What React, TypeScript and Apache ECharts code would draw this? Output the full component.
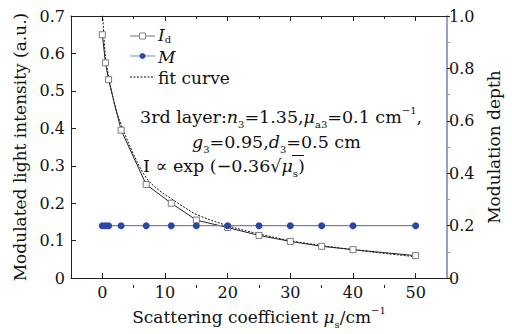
import React, { useEffect, useRef } from 'react';
import * as echarts from 'echarts';

const xValues = [0, 0.5, 1, 3, 7, 11, 15, 20, 25, 30, 35, 40, 50];
const idValues = [0.65, 0.575, 0.53, 0.395, 0.25, 0.2, 0.155, 0.135, 0.114, 0.098, 0.085, 0.076, 0.06];
const mValues = [0.2, 0.2, 0.2, 0.2, 0.2, 0.2, 0.2, 0.2, 0.2, 0.2, 0.2, 0.2, 0.2];
const fitX = [0, 0.5, 1, 2, 3, 5, 7, 9, 11, 13, 15, 20, 25, 30, 35, 40, 45, 50];
const fitY = [0.72, 0.59, 0.54, 0.46, 0.41, 0.33, 0.268, 0.235, 0.212, 0.19, 0.17, 0.14, 0.118, 0.1, 0.087, 0.076, 0.066, 0.057];
const xMajorTicks = [0, 10, 20, 30, 40, 50];
const xMinorTicks = [5, 15, 25, 35, 45];

const FONT = 'DejaVu Serif';
const BLUE = '#2b47a6';
const BLUE_LINE = '#6f80c6';

const richBase = (size: number) => ({
  i: { fontStyle: 'italic', fontFamily: FONT, fontSize: size, color: '#111', lineHeight: 24 },
  sub: { fontFamily: FONT, fontSize: 10, color: '#111', verticalAlign: 'bottom', lineHeight: 10 },
  sup: { fontFamily: FONT, fontSize: 10, color: '#111', verticalAlign: 'top', lineHeight: 10 },
  n: { fontFamily: FONT, fontSize: size, color: '#111', lineHeight: 24 },
});

const zrRich = (size: number, lh = 24) => ({
  i: { fontStyle: 'italic', fontFamily: FONT, fontSize: size, fill: '#111', lineHeight: lh },
  sub: { fontFamily: FONT, fontSize: 10, fill: '#111', verticalAlign: 'bottom', lineHeight: 10 },
  sup: { fontFamily: FONT, fontSize: 10, fill: '#111', verticalAlign: 'top', lineHeight: 10 },
  n: { fontFamily: FONT, fontSize: size, fill: '#111', lineHeight: lh },
});

export default function App() {
  const ref = useRef<HTMLDivElement>(null);
  useEffect(() => {
    if (!ref.current) return;
    const chart = echarts.init(ref.current, undefined, { renderer: 'svg' });
    const gridPos = { left: 71, right: 65, top: 16, bottom: 46 };
    const legendText = (x: number, y: number, text: string) => ({
      type: 'text', x, y, z: 10,
      style: { text, rich: zrRich(17, 19), font: `17px ${FONT}`, fill: '#111', verticalAlign: 'middle', align: 'left' },
    });
    const option: any = {
      animation: false,
      backgroundColor: '#fff',
      grid: [
        { ...gridPos, containLabel: false },
        { ...gridPos, containLabel: false },
      ],
      xAxis: [
        {
          gridIndex: 0, type: 'value', position: 'bottom', min: -5, max: 55, interval: 5,
          axisLine: { show: true, onZero: false, lineStyle: { color: '#222', width: 1 } },
          axisTick: { show: true, inside: true, length: 5, customValues: xMajorTicks, lineStyle: { color: '#222' } },
          axisLabel: { show: true, customValues: xMajorTicks, margin: 6, fontFamily: FONT, fontSize: 16, color: '#111' },
          splitLine: { show: false },
          name: '{n|Scattering coefficient }{i|μ}{sub|s}{n|/cm}{sup|−1}',
          nameLocation: 'middle',
          nameGap: 26,
          nameTextStyle: { fontFamily: FONT, fontSize: 17, color: '#111', rich: richBase(17) },
        },
        {
          gridIndex: 0, type: 'value', position: 'top', min: -5, max: 55, interval: 5,
          axisLine: { show: true, onZero: false, lineStyle: { color: '#222', width: 1 } },
          axisTick: { show: true, inside: true, length: 5, customValues: xMajorTicks, lineStyle: { color: '#222' } },
          axisLabel: { show: false },
          splitLine: { show: false },
        },
        {
          gridIndex: 1, type: 'value', position: 'bottom', min: -5, max: 55, interval: 5,
          axisLine: { show: false },
          axisTick: { show: true, inside: true, length: 3, customValues: xMinorTicks, lineStyle: { color: '#222' } },
          axisLabel: { show: false },
          splitLine: { show: false },
        },
        {
          gridIndex: 1, type: 'value', position: 'top', min: -5, max: 55, interval: 5,
          axisLine: { show: false },
          axisTick: { show: true, inside: true, length: 3, customValues: xMinorTicks, lineStyle: { color: '#222' } },
          axisLabel: { show: false },
          splitLine: { show: false },
        },
      ],
      yAxis: [
        {
          gridIndex: 0, type: 'value', position: 'left', min: 0, max: 0.7, interval: 0.1,
          axisLine: { show: true, onZero: false, lineStyle: { color: '#222', width: 1 } },
          axisTick: { show: true, inside: true, length: 5, lineStyle: { color: '#222' } },
          axisLabel: {
            margin: 6, fontFamily: FONT, fontSize: 16, color: '#111',
            formatter: (v: number) => (v === 0 ? '0' : v.toFixed(1)),
          },
          splitLine: { show: false },
          name: 'Modulated light intensity (a.u.)',
          nameLocation: 'middle',
          nameGap: 33,
          nameTextStyle: { fontFamily: FONT, fontSize: 17, color: '#111' },
        },
        {
          gridIndex: 0, type: 'value', position: 'right', min: 0, max: 1, interval: 0.2,
          axisLine: { show: true, onZero: false, lineStyle: { color: BLUE_LINE, width: 1.5 } },
          axisTick: { show: true, inside: false, length: 3, lineStyle: { color: '#222' } },
          minorTick: { show: true, splitNumber: 2, length: 3, lineStyle: { color: '#999' } },
          axisLabel: {
            margin: 2, fontFamily: FONT, fontSize: 16, color: '#111',
            formatter: (v: number) => (v === 0 ? '0' : v.toFixed(1)),
          },
          splitLine: { show: false },
          name: 'Modulation depth',
          nameLocation: 'middle',
          nameGap: 32,
          nameTextStyle: { fontFamily: FONT, fontSize: 17, color: '#111' },
        },
        {
          gridIndex: 1, type: 'value', min: 0, max: 0.7, show: false,
        },
      ],
      series: [
        {
          name: 'fit', type: 'line', xAxisIndex: 0, yAxisIndex: 0,
          data: fitX.map((x, i) => [x, fitY[i]]),
          showSymbol: false, symbol: 'none', smooth: 0.35, clip: true,
          lineStyle: { color: '#111', width: 1, type: [2, 1.5] },
          itemStyle: { color: '#111' },
          z: 2,
        },
        {
          name: 'Id', type: 'line', xAxisIndex: 0, yAxisIndex: 0,
          data: xValues.map((x, i) => [x, idValues[i]]),
          symbol: 'rect', symbolSize: 6,
          lineStyle: { color: '#222', width: 1 },
          itemStyle: { color: '#fff', borderColor: '#7a7a7a', borderWidth: 1 },
          z: 3,
        },
        {
          name: 'M', type: 'line', xAxisIndex: 0, yAxisIndex: 1,
          data: xValues.map((x, i) => [x, mValues[i]]),
          symbol: 'circle', symbolSize: 7,
          lineStyle: { color: BLUE_LINE, width: 1.2 },
          itemStyle: { color: BLUE },
          z: 4,
        },
      ],
      graphic: [
        // legend
        { type: 'line', z: 10, shape: { x1: 130, y1: 36, x2: 155, y2: 36 }, style: { stroke: '#888', lineWidth: 1.2 } },
        { type: 'rect', z: 11, shape: { x: 139.5, y: 33, width: 6, height: 6 }, style: { fill: '#fff', stroke: '#888', lineWidth: 1 } },
        legendText(158, 35, '{i|I}{sub|d}'),
        { type: 'line', z: 10, shape: { x1: 130, y1: 56, x2: 155, y2: 56 }, style: { stroke: '#8d9ad4', lineWidth: 1.2 } },
        { type: 'circle', z: 11, shape: { cx: 142.5, cy: 56, r: 3 }, style: { fill: BLUE } },
        legendText(158, 57, '{i|M}'),
        { type: 'line', z: 10, shape: { x1: 130, y1: 77, x2: 155, y2: 77 }, style: { stroke: '#111', lineWidth: 1, lineDash: [2, 1.5] } },
        legendText(158, 78, '{n|fit curve}'),
        // annotation
        {
          type: 'text', x: 140, y: 117, z: 10,
          style: {
            text: '{n|3rd layer:}{i|n}{sub|3}{n|=1.35,}{i|μ}{sub|a3}{n|=0.1 cm}{sup|−1}{n|,}',
            rich: zrRich(17.5), font: `17.5px ${FONT}`, fill: '#111', verticalAlign: 'middle',
          },
        },
        {
          type: 'text', x: 192, y: 142, z: 10,
          style: {
            text: '{i|g}{sub|3}{n|=0.95,}{i|d}{sub|3}{n|=0.5 cm}',
            rich: zrRich(17.5), font: `17.5px ${FONT}`, fill: '#111', verticalAlign: 'middle',
          },
        },
        {
          type: 'text', x: 143, y: 166, z: 10,
          style: {
            text: '{n|I ∝ exp (−0.36√}{i|μ}{sub|s}{n|)}',
            rich: zrRich(17.5), font: `17.5px ${FONT}`, fill: '#111', verticalAlign: 'middle',
          },
        },
        { type: 'line', z: 11, shape: { x1: 292, y1: 155.5, x2: 304, y2: 155.5 }, style: { stroke: '#111', lineWidth: 1 } },
      ],
    };
    chart.setOption(option);
    return () => chart.dispose();
  }, []);
  return <div ref={ref} style={{ width: 512, height: 334, position: 'absolute', left: 0, top: 0 }} />;
}
